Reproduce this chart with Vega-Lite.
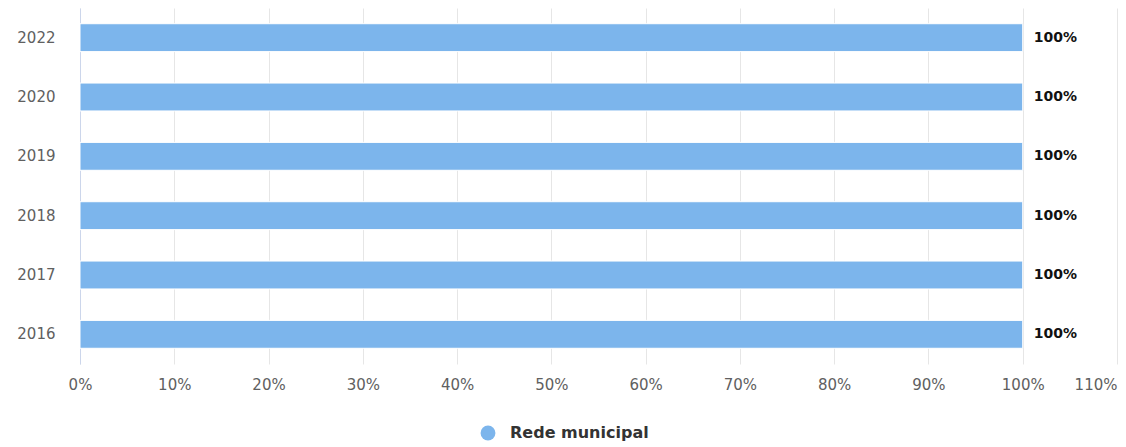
{
  "$schema": "https://vega.github.io/schema/vega-lite/v6.json",
  "width": 1037,
  "height": 356,
  "autosize": {"type": "none"},
  "padding": {"left": 80, "top": 8, "right": 9, "bottom": 83},
  "background": "white",
  "config": {
    "view": {"stroke": null},
    "font": "DejaVu Sans"
  },
  "data": {
    "values": [
      {"ano": "2022", "valor": 1.0, "serie": "Rede municipal"},
      {"ano": "2020", "valor": 1.0, "serie": "Rede municipal"},
      {"ano": "2019", "valor": 1.0, "serie": "Rede municipal"},
      {"ano": "2018", "valor": 1.0, "serie": "Rede municipal"},
      {"ano": "2017", "valor": 1.0, "serie": "Rede municipal"},
      {"ano": "2016", "valor": 1.0, "serie": "Rede municipal"}
    ]
  },
  "encoding": {
    "y": {
      "field": "ano",
      "type": "nominal",
      "sort": "descending",
      "scale": {"paddingInner": 0.53, "paddingOuter": 0.265},
      "axis": {
        "title": null,
        "ticks": false,
        "domainColor": "#ccd6eb",
        "domainWidth": 1,
        "labelFont": "DejaVu Sans",
        "labelFontSize": 15,
        "labelColor": "#606060",
        "labelPadding": 25,
        "grid": false
      }
    },
    "x": {
      "field": "valor",
      "type": "quantitative",
      "scale": {"domain": [0, 1.1], "nice": false},
      "axis": {
        "title": null,
        "values": [0, 0.1, 0.2, 0.3, 0.4, 0.5, 0.6, 0.7, 0.8, 0.9, 1.0, 1.1],
        "format": ".0%",
        "domain": false,
        "ticks": false,
        "grid": true,
        "gridColor": "#e6e6e6",
        "gridWidth": 1,
        "labelFont": "DejaVu Sans",
        "labelFontSize": 15,
        "labelColor": "#606060",
        "labelPadding": 13,
        "labelFlush": false,
        "labelAlign": {"condition": {"test": "datum.value > 1.05", "value": "right"}, "value": "center"}
      }
    }
  },
  "layer": [
    {
      "mark": {"type": "bar", "stroke": "white", "strokeWidth": 1},
      "encoding": {
        "color": {
          "field": "serie",
          "type": "nominal",
          "scale": {"range": ["#7cb5ec"]},
          "legend": {
            "title": null,
            "orient": "none",
            "legendX": 400,
            "legendY": 417,
            "symbolType": "circle",
            "symbolSize": 220,
            "symbolStrokeWidth": 0,
            "labelFont": "DejaVu Sans",
            "labelFontSize": 16,
            "labelFontWeight": "bold",
            "labelColor": "#333333",
            "labelOffset": 14
          }
        }
      }
    },
    {
      "mark": {
        "type": "text",
        "align": "left",
        "baseline": "middle",
        "dx": 11,
        "font": "DejaVu Sans",
        "fontSize": 14,
        "fontWeight": "bold",
        "color": "#111111"
      },
      "encoding": {
        "text": {"field": "valor", "type": "quantitative", "format": ".0%"}
      }
    }
  ]
}
